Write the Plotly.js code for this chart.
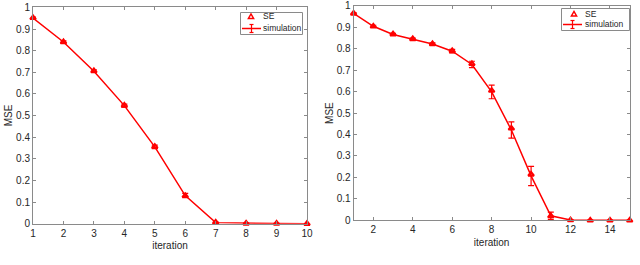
<!DOCTYPE html>
<html><head><meta charset="utf-8">
<script src="https://cdn.plot.ly/plotly-3.0.1.min.js"></script>
<style>html,body{margin:0;padding:0;background:#fff}#c{width:640px;height:265px}</style>
</head><body><div id="c"></div>
<script>
const iterA = [1,2,3,4,5,6,7,8,9,10];
const seA = [0.952,0.840,0.706,0.547,0.356,0.129,0.006,0.0015,0.001,0.0];
const simA = [0.951,0.840,0.705,0.546,0.355,0.130,0.005,0.0015,0.001,0.0];
const errA = [0.004,0.005,0.006,0.007,0.008,0.010,0.003,0.001,0.001,0.001];

const iterB = [1,2,3,4,5,6,7,8,9,10,11,12,13,14,15];
const seB = [0.965,0.905,0.868,0.846,0.823,0.790,0.730,0.605,0.429,0.214,0.020,0.001,0.0,0.0,0.0];
const simB = [0.965,0.905,0.867,0.845,0.822,0.789,0.727,0.599,0.421,0.207,0.021,0.001,0.0,0.0,0.0];
const errB = [0.004,0.005,0.005,0.005,0.006,0.008,0.015,0.032,0.038,0.045,0.017,0.002,0.001,0.001,0.001];

const xTicksA = [1,2,3,4,5,6,7,8,9,10];
const xTicksB = [2,4,6,8,10,12,14];
const yTicks = [0,0.1,0.2,0.3,0.4,0.5,0.6,0.7,0.8,0.9,1];
const yTickText = ['0','0.1','0.2','0.3','0.4','0.5','0.6','0.7','0.8','0.9','1'];

const legendLabels = ['SE','simulation'];

const red = '#ff0000';
const fnt = {family:'Liberation Sans, Arial, sans-serif', size:10, color:'#262626'};

function simTrace(x,y,e,xa,ya){
  return {x:x,y:y,type:'scatter',mode:'lines',name:legendLabels[1],xaxis:xa,yaxis:ya,cliponaxis:false,
    line:{color:red,width:1.5},
    error_y:{type:'data',array:e,visible:true,color:red,thickness:1.2,width:3}};
}
function seTrace(x,y,xa,ya){
  return {x:x,y:y,type:'scatter',mode:'markers',name:legendLabels[0],xaxis:xa,yaxis:ya,cliponaxis:false,
    marker:{symbol:'triangle-up-open',color:red,size:5,line:{width:2,color:red}}};
}

const traces = [
  simTrace(iterA,simA,errA,'x','y'),
  seTrace(iterA,seA,'x','y'),
  simTrace(iterB,simB,errB,'x2','y2'),
  seTrace(iterB,seB,'x2','y2')
];

const axBase = {showgrid:false,zeroline:false,showline:true,linecolor:'#8a8a8a',linewidth:1,
  mirror:'ticks',ticks:'inside',ticklen:3,tickcolor:'#8a8a8a',tickfont:fnt};

const W=640,H=265;
const px=x=>x/W, py=y=>1-y/H;
const shapes=[], annotations=[];
const lfont={family:fnt.family,size:8.5,color:'#262626'};
function addLegend(b){
  shapes.push({type:'rect',xref:'paper',yref:'paper',x0:px(b.x0),x1:px(b.x1),y0:py(b.y1),y1:py(b.y0),
    line:{color:'#8a8a8a',width:1},fillcolor:'#fff',layer:'above'});
  const tx=b.tx, ty=b.ty;
  shapes.push({type:'path',xref:'paper',yref:'paper',layer:'above',
    path:`M ${px(tx-2.6)} ${py(ty+2)} L ${px(tx+2.6)} ${py(ty+2)} L ${px(tx)} ${py(ty-2.6)} Z`,
    line:{color:red,width:1.5},fillcolor:'rgba(0,0,0,0)'});
  shapes.push({type:'line',xref:'paper',yref:'paper',layer:'above',x0:px(b.lx0),x1:px(b.lx1),y0:py(b.ly),y1:py(b.ly),line:{color:red,width:1.5}});
  const mx=(b.lx0+b.lx1)/2;
  shapes.push({type:'line',xref:'paper',yref:'paper',layer:'above',x0:px(mx),x1:px(mx),y0:py(b.ly-4),y1:py(b.ly+4),line:{color:red,width:1.2}});
  shapes.push({type:'line',xref:'paper',yref:'paper',layer:'above',x0:px(mx-2),x1:px(mx+2),y0:py(b.ly-4),y1:py(b.ly-4),line:{color:red,width:1.2}});
  shapes.push({type:'line',xref:'paper',yref:'paper',layer:'above',x0:px(mx-2),x1:px(mx+2),y0:py(b.ly+4),y1:py(b.ly+4),line:{color:red,width:1.2}});
  annotations.push({xref:'paper',yref:'paper',x:px(b.textx),y:py(b.ty),xanchor:'left',yanchor:'middle',showarrow:false,
    text:legendLabels[0],font:lfont});
  annotations.push({xref:'paper',yref:'paper',x:px(b.textx),y:py(b.ly),xanchor:'left',yanchor:'middle',showarrow:false,
    text:legendLabels[1],font:lfont});
}
addLegend({x0:240.5,x1:302.5,y0:12.5,y1:34.5,tx:251,ty:16.5,lx0:242,lx1:261,ly:28.5,textx:261});
addLegend({x0:561.5,x1:629.5,y0:8.5,y1:30.5,tx:574,ty:14,lx0:563,lx1:582,ly:24.5,textx:583});

const layout = {
  width:640,height:265,margin:{l:0,r:0,t:0,b:0},paper_bgcolor:'#fff',plot_bgcolor:'#fff',
  font:fnt,showlegend:false,shapes:shapes,annotations:annotations,
  xaxis:Object.assign({},axBase,{domain:[0.0516,0.4797],range:[1,10],tickvals:xTicksA,anchor:'y',
    title:{text:'iteration',font:fnt,standoff:4}}),
  yaxis:Object.assign({},axBase,{domain:[0.1558,0.9725],range:[0,1.0005],tickvals:yTicks,ticktext:yTickText,anchor:'x',
    title:{text:'MSE',font:fnt,standoff:1}}),
  xaxis2:Object.assign({},axBase,{domain:[0.5525,0.9839],range:[1,15],tickvals:xTicksB,anchor:'y2',
    title:{text:'iteration',font:fnt,standoff:4}}),
  yaxis2:Object.assign({},axBase,{domain:[0.1687,0.978],range:[0,1.0005],tickvals:yTicks,ticktext:yTickText,anchor:'x2',
    title:{text:'MSE',font:fnt,standoff:1}})
};

Plotly.newPlot('c',traces,layout,{staticPlot:true,displayModeBar:false});
</script></body></html>
